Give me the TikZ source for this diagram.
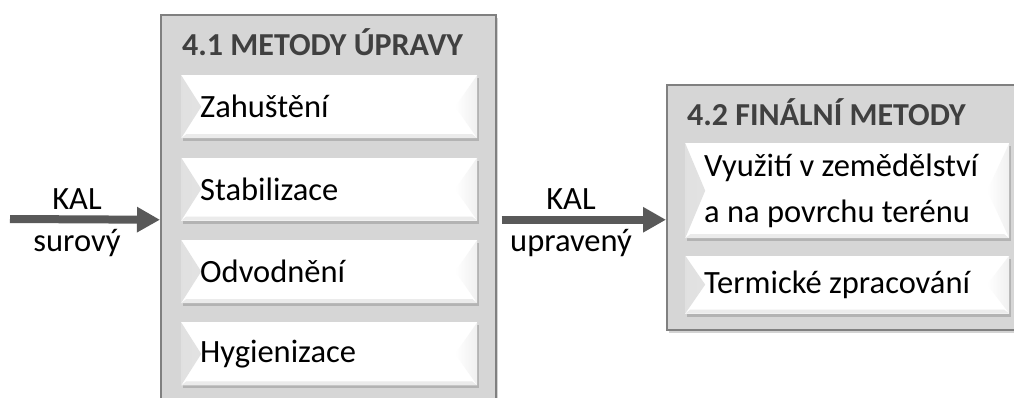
\documentclass[tikz,border=0pt]{standalone}
\usepackage{fontspec}
\setmainfont{Carlito}
\usetikzlibrary{positioning, shadows, arrows.meta}

\begin{document}
\begin{tikzpicture}[
			x = 1pt, y = -1pt,
			every node/.style = {font = \fontsize{32.5}{46}\selectfont},
			groupbox/.style = {draw = black!50, line width = 1.5pt, fill = black!16, anchor = north west, inner sep = 0pt,
				drop shadow = {shadow xshift = 2pt, shadow yshift = -3pt, opacity = 0.35}},
			grouptitle/.style = {font = \fontsize{32}{38}\selectfont\bfseries, text = black!75, anchor = base west, inner sep = 0pt},
			method/.style = {fill = white, anchor = north west, inner xsep = 19pt, inner ysep = 0pt, align = flush left,
				drop shadow = {shadow xshift = 2pt, shadow yshift = -3pt, opacity = 0.4},
				path picture = {
					\shade[left color = black!12, right color = white] (path picture bounding box.north west) -- ([xshift = 20pt]path picture bounding box.west) -- (path picture bounding box.south west) -- cycle;
					\shade[left color = white, right color = black!6] (path picture bounding box.north east) -- ([xshift = -22pt]path picture bounding box.east) -- (path picture bounding box.south east) -- cycle;
					\fill[black!8] (path picture bounding box.south west) -- ([xshift = 5pt, yshift = 4pt]path picture bounding box.south west) -- ([xshift = -5pt, yshift = 4pt]path picture bounding box.south east) -- (path picture bounding box.south east) -- cycle;
				}},
			flowarrow/.style = {draw = black!65, line width = 8pt, -{Triangle[length = 23pt, width = 24pt]}},
			flowtext/.style = {anchor = base, inner sep = 0pt}]
			\useasboundingbox (0,0) rectangle (1014,397);
			\clip (0,0) rectangle (1014,397);

			% Groups
			\node[groupbox, minimum width = 335pt, minimum height = 410pt] (prep) at (160,14) {};
			\node[groupbox, minimum width = 362pt, minimum height = 245pt] (final) at (666,84) {};
			\node[grouptitle] (preptitle) at (182,55) {4.1 METODY ÚPRAVY};
			\node[grouptitle] (finaltitle) at (687,125) {4.2 FINÁLNÍ METODY};

			% Methods
			\node[method, text width = 258pt, minimum height = 63pt] (thick) at (181,75) {Zahuštění};
			\node[method, text width = 258pt, minimum height = 63pt, below = 19pt of thick] (stab) {Stabilizace};
			\node[method, text width = 258pt, minimum height = 63pt, below = 19pt of stab] (dewater) {Odvodnění};
			\node[method, text width = 258pt, minimum height = 63pt, below = 19pt of dewater] (hyg) {Hygienizace};
			\node[method, text width = 286pt, minimum height = 95pt] (agri) at (685,143) {Využití v zemědělství\\a na povrchu terénu};
			\node[method, text width = 286pt, minimum height = 58pt, below = 17pt of agri] (thermal) {Termické zpracování};

			% Flows
			\coordinate (in) at (10,219);
			\draw[flowarrow] (in) -- (prep.west);
			\draw[flowarrow, shorten < = 5pt] (prep.east) -- (prep.east -| final.west);

			% Labels
			\node[flowtext] (kalraw) at (77,209) {KAL};
			\node[flowtext] (raw) at (77,251) {surový};
			\node[flowtext] (kalprep) at (571,209) {KAL};
			\node[flowtext] (treated) at (571,251) {upravený};
		\end{tikzpicture}
\end{document}
